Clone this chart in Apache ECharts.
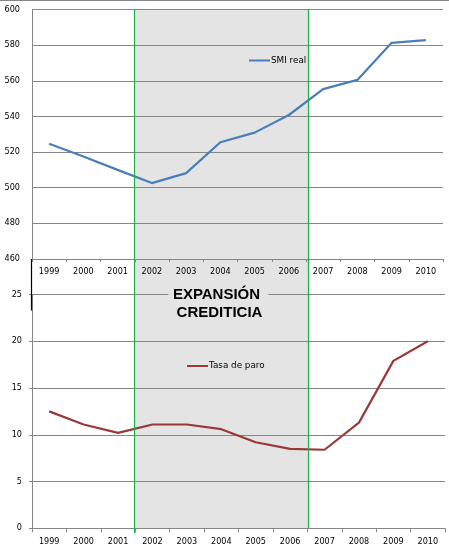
<!DOCTYPE html>
<html>
<head>
<meta charset="utf-8">
<script src="https://cdn.jsdelivr.net/npm/echarts@6/dist/echarts.min.js"></script>
<style>
html,body{margin:0;padding:0;background:#fff;}
#main{width:449px;height:555px;}
</style>
</head>
<body>
<div id="main"></div>
<script>
const years = ['1999','2000','2001','2002','2003','2004','2005','2006','2007','2008','2009','2010'];
const smiReal = [524.7, 517.5, 510.0, 502.6, 508.2, 525.5, 530.9, 540.8, 555.3, 560.5, 581.3, 582.8];
const tasaParo = [12.5, 11.1, 10.2, 11.1, 11.1, 10.6, 9.2, 8.5, 8.4, 11.3, 17.9, 20.0];
const smiAxis = {min: 460, max: 600, interval: 20};
const paroAxis = {min: 0, max: 25, interval: 5};
const expansionYears = ['2002', '2006'];
const expansionLines = ['EXPANSIÓN', 'CREDITICIA'];

const GRID = '#868686';
const SHADE = '#e4e4e4';
const GREEN = '#1fb04b';
const FONT = 'DejaVu Sans';

const chart = echarts.init(document.getElementById('main'), null, {renderer: 'canvas'});

const labelStyle = {color: '#000', fontFamily: FONT, fontSize: 8.1};

chart.setOption({
  animation: false,
  backgroundColor: '#fff',
  grid: [
    {left: 32, top: 9.5, width: 411, height: 249.5, outerBoundsMode: 'none'},
    {left: 32, top: 294.5, width: 413, height: 233.8, outerBoundsMode: 'none'}
  ],
  xAxis: [
    {gridIndex: 0, type: 'category', data: years, boundaryGap: true,
     axisLine: {lineStyle: {color: GRID, width: 1}},
     axisTick: {show: true, length: 3, lineStyle: {color: GRID}},
     axisLabel: Object.assign({margin: 9, interval: 0}, labelStyle)},
    {gridIndex: 1, type: 'category', data: years, boundaryGap: true,
     axisLine: {lineStyle: {color: GRID, width: 1}},
     axisTick: {show: true, length: 4, lineStyle: {color: GRID}},
     axisLabel: Object.assign({margin: 10, interval: 0}, labelStyle)}
  ],
  yAxis: [
    {gridIndex: 0, type: 'value', min: smiAxis.min, max: smiAxis.max, interval: smiAxis.interval,
     axisLine: {show: true, lineStyle: {color: GRID}},
     axisTick: {show: false},
     splitLine: {show: true, lineStyle: {color: GRID, width: 1}},
     axisLabel: Object.assign({margin: 12}, labelStyle)},
    {gridIndex: 1, type: 'value', min: paroAxis.min, max: paroAxis.max, interval: paroAxis.interval,
     axisLine: {show: true, lineStyle: {color: GRID}},
     axisTick: {show: true, length: 3, lineStyle: {color: GRID}},
     splitLine: {show: true, lineStyle: {color: GRID, width: 1}},
     axisLabel: Object.assign({margin: 10}, labelStyle)}
  ],
  legend: [
    {data: ['SMI real'], left: 249, top: 56, padding: 0, icon: 'rect', itemWidth: 21, itemHeight: 2,
     textStyle: {color: '#000', fontFamily: FONT, fontSize: 8.8, padding: [0,0,0,-4]}},
    {data: ['Tasa de paro'], left: 187, top: 361.5, padding: 0, icon: 'rect', itemWidth: 21, itemHeight: 2,
     textStyle: {color: '#000', fontFamily: FONT, fontSize: 8.8, padding: [0,0,0,-4]}}
  ],
  series: [
    {name: 'SMI real', type: 'line', xAxisIndex: 0, yAxisIndex: 0, data: smiReal,
     symbol: 'none', lineStyle: {color: '#4a7ebb', width: 2.2}, itemStyle: {color: '#4a7ebb'}, z: 5},
    {name: 'Tasa de paro', type: 'line', xAxisIndex: 1, yAxisIndex: 1, data: tasaParo,
     symbol: 'none', lineStyle: {color: '#98393a', width: 2.2}, itemStyle: {color: '#98393a'}, z: 5}
  ]
});

// Shaded period, located through the library's own scales
const pA = chart.convertToPixel({xAxisIndex: 1}, expansionYears[0]);
const pNext = chart.convertToPixel({xAxisIndex: 1}, years[years.indexOf(expansionYears[0]) + 1]);
const pB = chart.convertToPixel({xAxisIndex: 1}, expansionYears[1]);
const half = (pNext - pA) / 2;
const xL = Math.round(pA - half) - 0.5, xR = Math.round(pB + half) + 1.5;
const yTop = chart.convertToPixel({yAxisIndex: 0}, smiAxis.max);
const yBot = chart.convertToPixel({yAxisIndex: 1}, paroAxis.min);
const yTopAxisBottom = chart.convertToPixel({yAxisIndex: 0}, smiAxis.min);
const y25 = chart.convertToPixel({yAxisIndex: 1}, paroAxis.max);
const xMid = (xL + xR) / 2;

chart.setOption({
  graphic: [
    {type: 'line', z: 20, shape: {x1: 0, y1: 0.5, x2: 449, y2: 0.5}, style: {stroke: GRID, lineWidth: 1}},
    {type: 'rect', z: -1, shape: {x: xL, y: yTop, width: xR - xL, height: yBot - yTop}, style: {fill: SHADE}},
    {type: 'line', z: 20, shape: {x1: xL, y1: yTop, x2: xL, y2: yBot + 5}, style: {stroke: GREEN, lineWidth: 1.2}},
    {type: 'line', z: 20, shape: {x1: xR, y1: yTop, x2: xR, y2: yBot}, style: {stroke: GREEN, lineWidth: 1.2}},
    {type: 'line', z: 20, shape: {x1: 31.5, y1: yTopAxisBottom, x2: 31.5, y2: y25 + 16}, style: {stroke: '#000', lineWidth: 1.2}},
    {type: 'rect', z: 20, shape: {x: xMid - 53, y: y25 - 4, width: 100, height: 8}, style: {fill: SHADE}},
    {type: 'text', z: 21, x: xMid - 5, y: y25, style: {text: expansionLines[0], fill: '#000', font: 'bold 15px "Liberation Sans", Arial', align: 'center', verticalAlign: 'middle'}},
    {type: 'text', z: 21, x: xMid - 2, y: y25 + 18, style: {text: expansionLines[1], fill: '#000', font: 'bold 15px "Liberation Sans", Arial', align: 'center', verticalAlign: 'middle'}}
  ]
});
</script>
</body>
</html>
